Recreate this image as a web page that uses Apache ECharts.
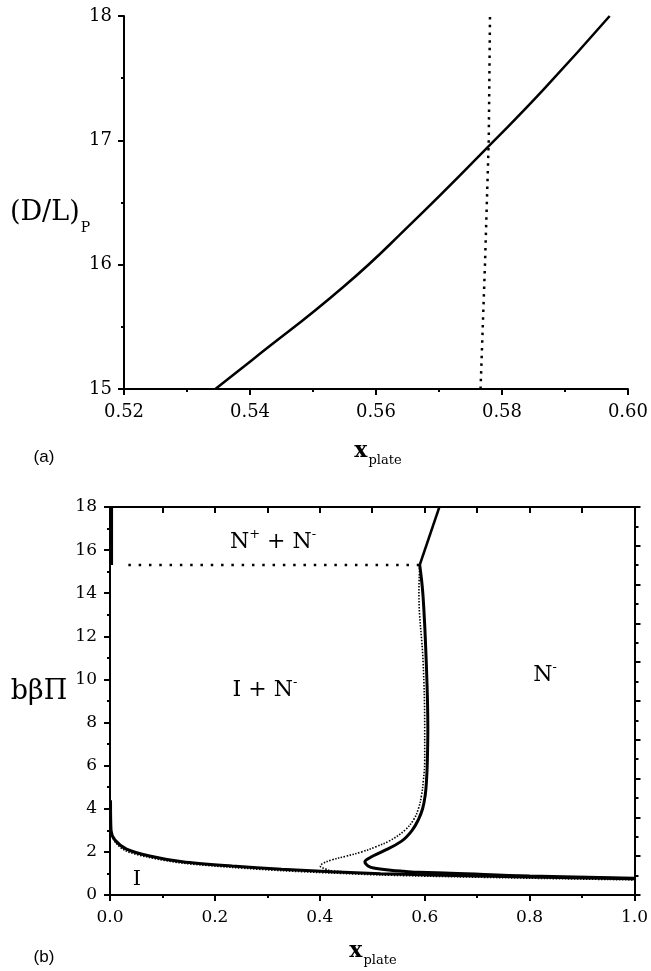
<!DOCTYPE html>
<html><head><meta charset="utf-8">
<script src="https://cdn.jsdelivr.net/npm/echarts@6/dist/echarts.min.js"></script>
<style>html,body{margin:0;padding:0;background:#fff}#c{width:651px;height:971px}</style>
</head><body><div id="c"></div>
<script>
// ---------- Panel (a) ----------
const aCurveX = [0.5345, 0.5404, 0.5548, 0.5653, 0.5788, 0.5868, 0.5971];
const aCurveY = [15.0, 15.236, 15.82, 16.316, 17.0, 17.42, 18.0];
const aDotX = [0.5766, 0.5773, 0.5779, 0.5781];
const aDotY = [15, 16, 17, 18];

// ---------- Panel (b) ----------
const bLeftTopX = [0.003, 0.003];
const bLeftTopY = [18, 15.31];
const bIsoX = [0.001, 0.002, 0.0094, 0.0315, 0.0755, 0.138, 0.233, 0.327, 0.422, 0.516, 0.611, 0.8, 1.0];
const bIsoY = [4.4, 3.0, 2.55, 2.13, 1.81, 1.54, 1.34, 1.19, 1.08, 0.99, 0.93, 0.84, 0.75];
const bIsoDotX = [0.003, 0.01, 0.03, 0.075, 0.138, 0.233, 0.327, 0.422, 0.516, 0.611, 0.8, 1.0];
const bIsoDotY = [2.9, 2.45, 2.05, 1.74, 1.48, 1.28, 1.13, 1.02, 0.93, 0.87, 0.78, 0.70];
const bNemTopX = [0.628, 0.5905];
const bNemTopY = [18, 15.31];
const bNemX = [0.5905, 0.5968, 0.603, 0.606, 0.605, 0.6035, 0.601, 0.596, 0.588, 0.576, 0.556, 0.518, 0.497, 0.486, 0.492, 0.505, 0.535, 0.56, 0.59, 0.65, 0.8, 1.0];
const bNemY = [15.31, 13.89, 10.8, 7.72, 6.17, 5.32, 4.63, 4.0, 3.5, 3.0, 2.5, 2.0, 1.75, 1.54, 1.35, 1.24, 1.15, 1.10, 1.05, 1.01, 0.88, 0.78];
const bNemDotX = [0.5905, 0.589, 0.597, 0.600, 0.600, 0.5975, 0.594, 0.588, 0.579, 0.562, 0.532, 0.507, 0.480, 0.450, 0.422, 0.405, 0.401, 0.410, 0.422, 0.46];
const bNemDotY = [15.31, 14.0, 10.8, 7.72, 6.17, 5.32, 4.63, 4.0, 3.5, 3.0, 2.5, 2.24, 2.0, 1.8, 1.62, 1.45, 1.34, 1.22, 1.13, 1.06];
const bTripleX = [0.035, 0.5905];
const bTripleY = [15.31, 15.31];

const pts = (xs, ys) => xs.map((x, i) => [x, ys[i]]);
const SERIF = 'DejaVu Serif';
const BLK = '#000';

function axisBase(extra) {
  return Object.assign({
    type: 'value',
    axisLine: { show: true, onZero: false, lineStyle: { color: BLK, width: 2 } },
    axisTick: { show: true, inside: false, length: 6, lineStyle: { color: BLK, width: 2 } },
    minorTick: { show: true, splitNumber: 2, length: 3, lineStyle: { color: BLK, width: 2 } },
    splitLine: { show: false },
    axisLabel: { color: BLK, fontFamily: SERIF, fontSize: 18, margin: 12 }
  }, extra);
}

const line = (data, xi, yi, width, type, smooth) => ({
  type: 'line', data, xAxisIndex: xi, yAxisIndex: yi, symbol: 'none',
  smooth: smooth || false, silent: true, animation: false,
  lineStyle: { color: BLK, width, type: type || 'solid', cap: 'butt' }
});

const option = {
  animation: false,
  backgroundColor: '#fff',
  grid: [
    { left: 124, top: 16, width: 510, height: 373 },
    { left: 110, top: 507, width: 529, height: 388 }
  ],
  xAxis: [
    axisBase({ gridIndex: 0, min: 0.52, max: 0.60, interval: 0.02,
      axisLabel: { color: BLK, fontFamily: SERIF, fontSize: 18, margin: 14, formatter: v => v.toFixed(2) } }),
    axisBase({ gridIndex: 1, min: 0, max: 1, interval: 0.2,
      axisLabel: { color: BLK, fontFamily: SERIF, fontSize: 17, margin: 14, formatter: v => v.toFixed(1) } }),
    axisBase({ gridIndex: 1, position: 'top', min: 0, max: 1, interval: 0.1,
      axisTick: { show: true, inside: true, length: 6, lineStyle: { color: BLK, width: 2 } },
      minorTick: { show: false }, axisLabel: { show: false } })
  ],
  yAxis: [
    axisBase({ gridIndex: 0, min: 15, max: 18, interval: 1 }),
    axisBase({ gridIndex: 1, min: 0, max: 18, interval: 2,
      axisLabel: { color: BLK, fontFamily: SERIF, fontSize: 17, margin: 13 } }),
    axisBase({ gridIndex: 1, position: 'right', min: 0, max: 20, interval: 2,
      axisTick: { show: true, inside: false, length: 6, lineStyle: { color: BLK, width: 2 } },
      minorTick: { show: true, splitNumber: 2, length: 4, lineStyle: { color: BLK, width: 2 } },
      axisLabel: { show: false } })
  ],
  series: [
    line(pts(aCurveX, aCurveY), 0, 0, 2.5, 'solid', 0.5),
    line(pts(aDotX, aDotY), 0, 0, 2.5, [2.5, 5.2]),
    line(pts(bTripleX, bTripleY), 1, 1, 2.5, [2.5, 7.8]),
    line(pts(bLeftTopX, bLeftTopY), 1, 1, 3),
    line(pts(bIsoDotX, bIsoDotY), 1, 1, 1.6, [1.5, 1.5], 0.3),
    line(pts(bNemDotX, bNemDotY), 1, 1, 1.6, [1.5, 1.5], 0.4),
    line(pts(bIsoX, bIsoY), 1, 1, 3, 'solid', 0.3),
    line(pts(bNemTopX, bNemTopY), 1, 1, 2.5),
    line(pts(bNemX, bNemY), 1, 1, 3, 'solid', 0.4)
  ],
  graphic: [
    { type: 'text', x: 50, y: 215, silent: true, style: {
      text: '{m|(D/L)}{s|P}', align: 'center', verticalAlign: 'middle', fill: BLK,
      rich: { m: { fontFamily: SERIF, fontSize: 27, lineHeight: 32, verticalAlign: 'top', fill: BLK },
              s: { fontFamily: SERIF, fontSize: 14, lineHeight: 14, padding: [22, 0, 0, 1], verticalAlign: 'top', fill: BLK } } } },
    { type: 'text', x: 44, y: 457, silent: true, style: {
      text: '(a)', align: 'center', verticalAlign: 'middle', fill: BLK, fontFamily: 'Liberation Sans', fontSize: 17 } },
    { type: 'text', x: 378, y: 452, silent: true, style: {
      text: '{x|x}{s|plate}', align: 'center', verticalAlign: 'middle', fill: BLK,
      rich: { x: { fontFamily: SERIF, fontSize: 22, fontWeight: 'bold', lineHeight: 24, verticalAlign: 'top', fill: BLK },
              s: { fontFamily: SERIF, fontSize: 13, lineHeight: 13, padding: [14, 0, 0, 1], verticalAlign: 'top', fill: BLK } } } },
    { type: 'text', x: 39, y: 692, silent: true, style: {
      text: 'bβΠ', align: 'center', verticalAlign: 'middle', fill: BLK, fontFamily: SERIF, fontSize: 27 } },
    { type: 'text', x: 44, y: 957, silent: true, style: {
      text: '(b)', align: 'center', verticalAlign: 'middle', fill: BLK, fontFamily: 'Liberation Sans', fontSize: 17 } },
    { type: 'text', x: 373, y: 952, silent: true, style: {
      text: '{x|x}{s|plate}', align: 'center', verticalAlign: 'middle', fill: BLK,
      rich: { x: { fontFamily: SERIF, fontSize: 22, fontWeight: 'bold', lineHeight: 24, verticalAlign: 'top', fill: BLK },
              s: { fontFamily: SERIF, fontSize: 13, lineHeight: 13, padding: [14, 0, 0, 1], verticalAlign: 'top', fill: BLK } } } },
    { type: 'text', x: 273, y: 542, silent: true, style: {
      text: '{m|N}{p|+}{m| + N}{p|-}', align: 'center', verticalAlign: 'middle', fill: BLK,
      rich: { m: { fontFamily: SERIF, fontSize: 22, lineHeight: 28, verticalAlign: 'middle', fill: BLK },
              p: { fontFamily: SERIF, fontSize: 13, lineHeight: 13, verticalAlign: 'top', fill: BLK } } } },
    { type: 'text', x: 265, y: 690, silent: true, style: {
      text: '{m|I + N}{p|-}', align: 'center', verticalAlign: 'middle', fill: BLK,
      rich: { m: { fontFamily: SERIF, fontSize: 22, lineHeight: 28, verticalAlign: 'middle', fill: BLK },
              p: { fontFamily: SERIF, fontSize: 13, lineHeight: 13, verticalAlign: 'top', fill: BLK } } } },
    { type: 'text', x: 545, y: 675, silent: true, style: {
      text: '{m|N}{p|-}', align: 'center', verticalAlign: 'middle', fill: BLK,
      rich: { m: { fontFamily: SERIF, fontSize: 22, lineHeight: 28, verticalAlign: 'middle', fill: BLK },
              p: { fontFamily: SERIF, fontSize: 13, lineHeight: 13, verticalAlign: 'top', fill: BLK } } } },
    { type: 'text', x: 137, y: 880, silent: true, style: {
      text: 'I', align: 'center', verticalAlign: 'middle', fill: BLK, fontFamily: SERIF, fontSize: 21 } }
  ]
};

const chart = echarts.init(document.getElementById('c'), null, { renderer: 'canvas' });
chart.setOption(option);
</script>
</body></html>
